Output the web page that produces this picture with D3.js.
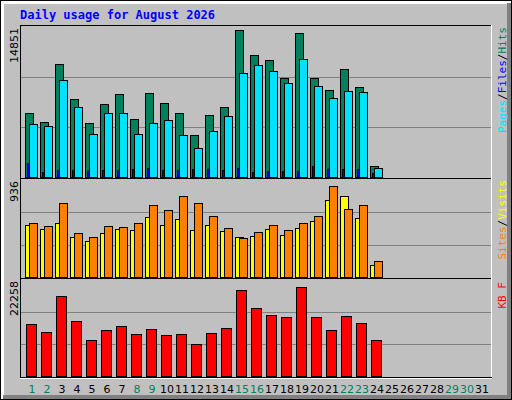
<!DOCTYPE html>
<html><head><meta charset="utf-8">
<script src="https://cdn.jsdelivr.net/npm/d3@7"></script>
<style>body{margin:0;background:#fff}</style>
</head><body>
<script>
const days = d3.range(1, 32);
const weekendDays = [1,2,8,9,15,16,22,23,29,30];
const hits  = [6337,5446,11188,7723,5346,7228,8218,5743,8317,7327,6337,4158,6139,6931,14554,12080,11584,9802,14258,9802,8614,10693,8911,1089];
const files = [5247,5049,9603,6930,4257,6336,6336,4257,5346,5643,4158,2871,4554,6039,10296,11088,10494,9306,11682,9009,7821,8514,8415,891];
const pages = [1386,495,693,693,594,693,693,792,891,693,693,792,792,693,891,495,594,594,594,1089,792,792,792,396];
const visits= [498,460,517,385,347,423,460,451,583,498,555,451,498,442,385,394,460,404,470,536,744,782,574,120];
const sites = [517,489,716,423,385,489,479,517,697,650,782,716,593,470,375,432,498,451,517,593,876,659,697,158];
const kbytes= [12122,10306,18478,12803,8263,10760,11668,9852,10987,9398,9852,7355,10079,11214,19840,15754,14165,13711,20748,13711,10760,13938,12349,8263];
const maxTop = 14851, maxMid = 936, maxBot = 22258;

const W=512,H=400;
const svg=d3.select("body").append("svg").attr("width",W).attr("height",H);
svg.append("rect").attr("width",W).attr("height",H).attr("fill","#C0C0C0");
// frame
svg.append("rect").attr("x",0.5).attr("y",0.5).attr("width",W-1).attr("height",H-1).attr("fill","none").attr("stroke","#000");
svg.append("rect").attr("x",1).attr("y",1).attr("width",W-2).attr("height",3).attr("fill","#fff");
svg.append("rect").attr("x",1).attr("y",1).attr("width",3).attr("height",H-2).attr("fill","#fff");
svg.append("rect").attr("x",W-5).attr("y",3).attr("width",4).attr("height",H-4).attr("fill","#808080");
svg.append("rect").attr("x",3).attr("y",H-5).attr("width",W-4).attr("height",4).attr("fill","#808080");

svg.append("text").attr("x",20).attr("y",19).attr("fill","#0000FF")
  .attr("font-family","DejaVu Sans Mono").attr("font-weight","bold").attr("font-size",12)
  .text("Daily usage for August 2026");

const x=d3.scaleLinear().domain([1,31]).range([25,475]);
const L=20,R=491;
const panels=[{y0:25,y1:177,max:maxTop},{y0:178,y1:277,max:maxMid},{y0:278,y1:376,max:maxBot}];
panels.forEach(p=>{
  p.y=d3.scaleLinear().domain([0,p.max]).range([p.y1,p.y0+2]);
  const g=svg.append("g");
  g.append("line").attr("x1",L).attr("x2",R).attr("y1",p.y0+0.5).attr("y2",p.y0+0.5).attr("stroke","#000");
  g.append("line").attr("x1",L+0.5).attr("x2",L+0.5).attr("y1",p.y0).attr("y2",p.y1+1).attr("stroke","#000");
  g.append("line").attr("x1",R+0.5).attr("x2",R+0.5).attr("y1",p.y0).attr("y2",p.y1+2).attr("stroke","#fff");
  [1/3,2/3].forEach(f=>{
    const yy=Math.round(p.y(p.max*f))+0.5;
    g.append("line").attr("x1",L+1).attr("x2",R).attr("y1",yy).attr("y2",yy).attr("stroke","#808080");
  });
  svg.append("text").attr("transform",`translate(18,${p.y0+3}) rotate(-90)`).attr("text-anchor","end")
    .attr("font-family","DejaVu Sans").attr("font-size",11).text(p.max);
});
svg.append("line").attr("x1",L).attr("x2",R+1).attr("y1",378.5).attr("y2",378.5).attr("stroke","#fff");
svg.append("line").attr("x1",L).attr("x2",R+1).attr("y1",377.5).attr("y2",377.5).attr("stroke","#000");

function bars(data,p,dx,w,color){
  svg.append("g").selectAll("rect").data(data).join("rect")
    .attr("x",(d,i)=>x(i+1)+dx+0.5).attr("y",d=>Math.round(p.y(d))+0.5)
    .attr("width",w).attr("height",d=>p.y1-Math.round(p.y(d)))
    .attr("fill",color).attr("stroke","#000");
}
bars(hits,panels[0],0,8,"#00805C");
bars(files,panels[0],4,8,"#00E0FF");
bars(pages,panels[0],2,2,"#0000FF");
bars(visits,panels[1],0,8,"#FFFF00");
bars(sites,panels[1],4,8,"#FF8000");
bars(kbytes,panels[2],1,10,"#FF0000");

svg.append("g").selectAll("text").data(days).join("text")
  .attr("x",d=>x(d)+7).attr("y",393).attr("text-anchor","middle")
  .attr("font-family","DejaVu Sans").attr("font-size",11)
  .attr("fill",d=>weekendDays.includes(d)?"#00805C":"#000").text(d=>d);

function rlabel(y,parts){
  const t=svg.append("text").attr("transform",`translate(506,${y}) rotate(-90)`)
    .attr("text-anchor","end").attr("font-family","DejaVu Sans Mono").attr("font-size",11);
  parts.forEach(([s,c])=>t.append("tspan").attr("fill",c).text(s));
}
rlabel(27,[["Pages","#00E0FF"],["/","#000"],["Files","#0000FF"],["/","#000"],["Hits","#00805C"]]);
rlabel(180,[["Sites","#FF8000"],["/","#000"],["Visits","#FFFF00"]]);
rlabel(282,[["KB F","#FF0000"]]);
</script>
</body></html>
